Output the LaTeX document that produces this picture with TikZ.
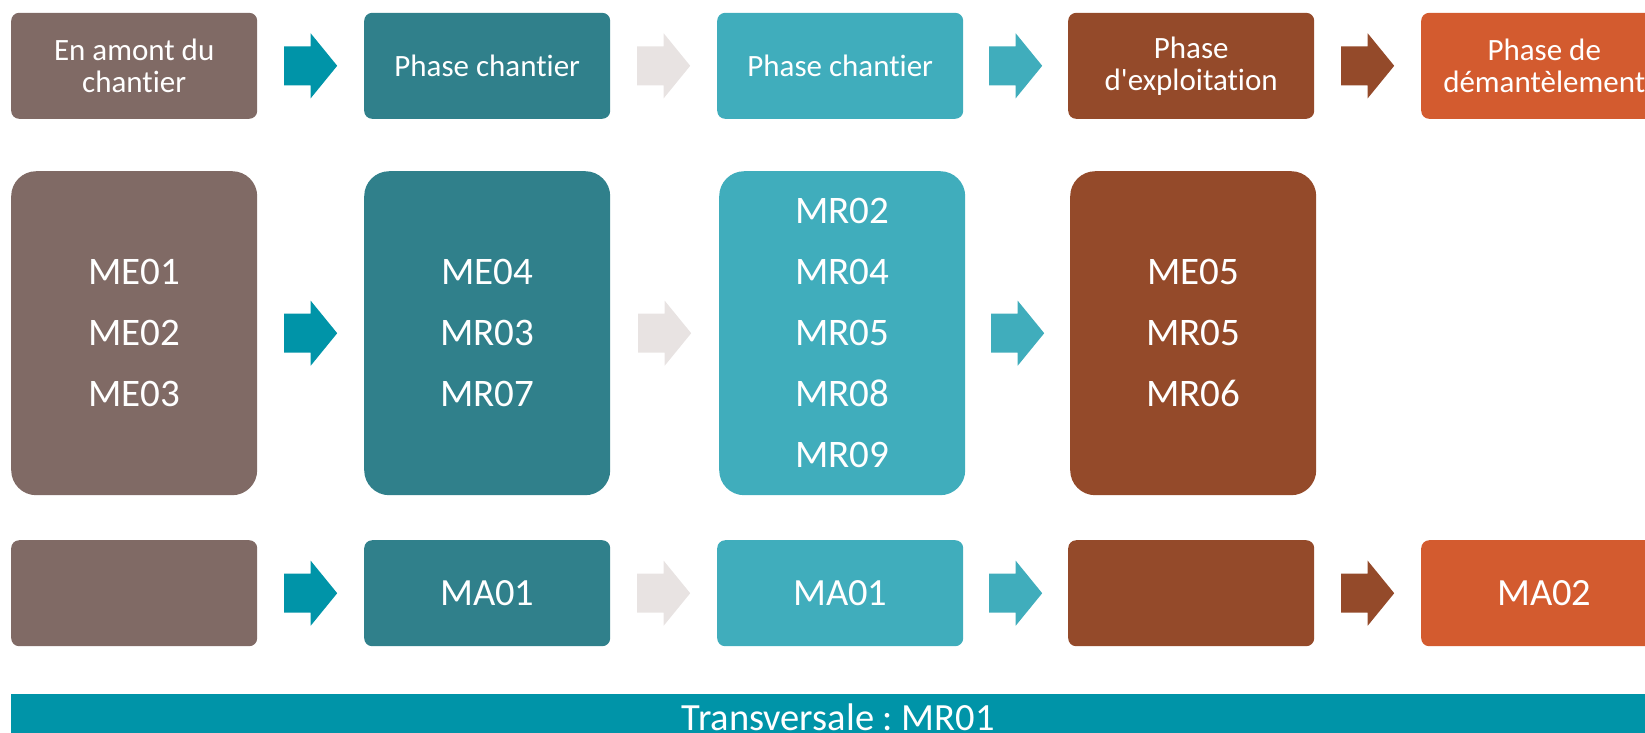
\documentclass[tikz,border=0pt]{standalone}
\usepackage{fontspec}
\setmainfont{Carlito}[Ligatures={NoCommon}]
\frenchspacing
\usetikzlibrary{calc}
\definecolor{cGris}{HTML}{806A65}
\definecolor{cTeal}{HTML}{30808B}
\definecolor{cLight}{HTML}{40ADBC}
\definecolor{cBrown}{HTML}{944A2A}
\definecolor{cOrange}{HTML}{D35B2F}
\definecolor{cBlue}{HTML}{0094A8}
\definecolor{cPale}{HTML}{E8E3E2}
\tikzset{
  box/.style={rectangle, rounded corners=8pt, minimum width=246pt, minimum height=106pt,
    inner sep=0pt, anchor=north west, text=white, align=center,
    font=\fontsize{31}{32}\selectfont},
  tall/.style={box, minimum height=324pt, rounded corners=25pt,
    font=\fontsize{39}{61}\selectfont},
  big/.style={font=\fontsize{38.5}{40}\selectfont},
  pics/barrow/.style={code={
    \fill[#1] (-26.5,-19.5) -- (0,-19.5) -- (0,-32.5) -- (26.5,0) -- (0,32.5)
      -- (0,19.5) -- (-26.5,19.5) -- cycle;}}
}
\begin{document}
\begin{tikzpicture}[x=1pt,y=-1pt]
\useasboundingbox (0,0) rectangle (1645,732);
\clip (0,0) rectangle (1645,732);
% top row
\node[box, fill=cGris]   (t1) at (11,12.6)   {En amont du\\chantier};
\node[box, fill=cTeal]   (t2) at (364,12.6)  {Phase chantier};
\node[box, fill=cLight]  (t3) at (717,12.6)  {Phase chantier};
\node[box, fill=cBrown]  (t4) at (1068,12.6) {Phase\\d\textquotesingle exploitation};
\node[box, fill=cOrange] (t5) at (1421,12.6) {Phase de\\démantèlement};
\pic at ($(t1.east)!.5!(t2.west)$) {barrow=cBlue};
\pic at ($(t2.east)!.5!(t3.west)$) {barrow=cPale};
\pic at ($(t3.east)!.5!(t4.west)$) {barrow=cLight};
\pic at ($(t4.east)!.5!(t5.west)$) {barrow=cBrown};
% middle row
\node[tall, fill=cGris]  (m1) at (11,171)   {ME01\\ME02\\ME03};
\node[tall, fill=cTeal]  (m2) at (364,171)  {ME04\\MR03\\MR07};
\node[tall, fill=cLight] (m3) at (719,171)  {MR02\\MR04\\MR05\\MR08\\MR09};
\node[tall, fill=cBrown] (m4) at (1070,171) {ME05\\MR05\\MR06};
\pic at ($(m1.east)!.5!(m2.west)$) {barrow=cBlue};
\pic at ($(m2.east)!.5!(m3.west)$) {barrow=cPale};
\pic at ($(m3.east)!.5!(m4.west)$) {barrow=cLight};
% bottom row
\node[box, big, fill=cGris]   (b1) at (11,540)   {};
\node[box, big, fill=cTeal]   (b2) at (364,540)  {MA01};
\node[box, big, fill=cLight]  (b3) at (717,540)  {MA01};
\node[box, big, fill=cBrown]  (b4) at (1068,540) {};
\node[box, big, fill=cOrange] (b5) at (1421,540) {MA02};
\pic at ($(b1.east)!.5!(b2.west)$) {barrow=cBlue};
\pic at ($(b2.east)!.5!(b3.west)$) {barrow=cPale};
\pic at ($(b3.east)!.5!(b4.west)$) {barrow=cLight};
\pic at ($(b4.east)!.5!(b5.west)$) {barrow=cBrown};
% transversal bar
\node[rectangle, fill=cBlue, inner sep=0pt, anchor=north west, minimum width=1654pt,
  minimum height=47pt, text=white, big] (bar) at (11,694) {Transversale : MR01};
\end{tikzpicture}
\end{document}
